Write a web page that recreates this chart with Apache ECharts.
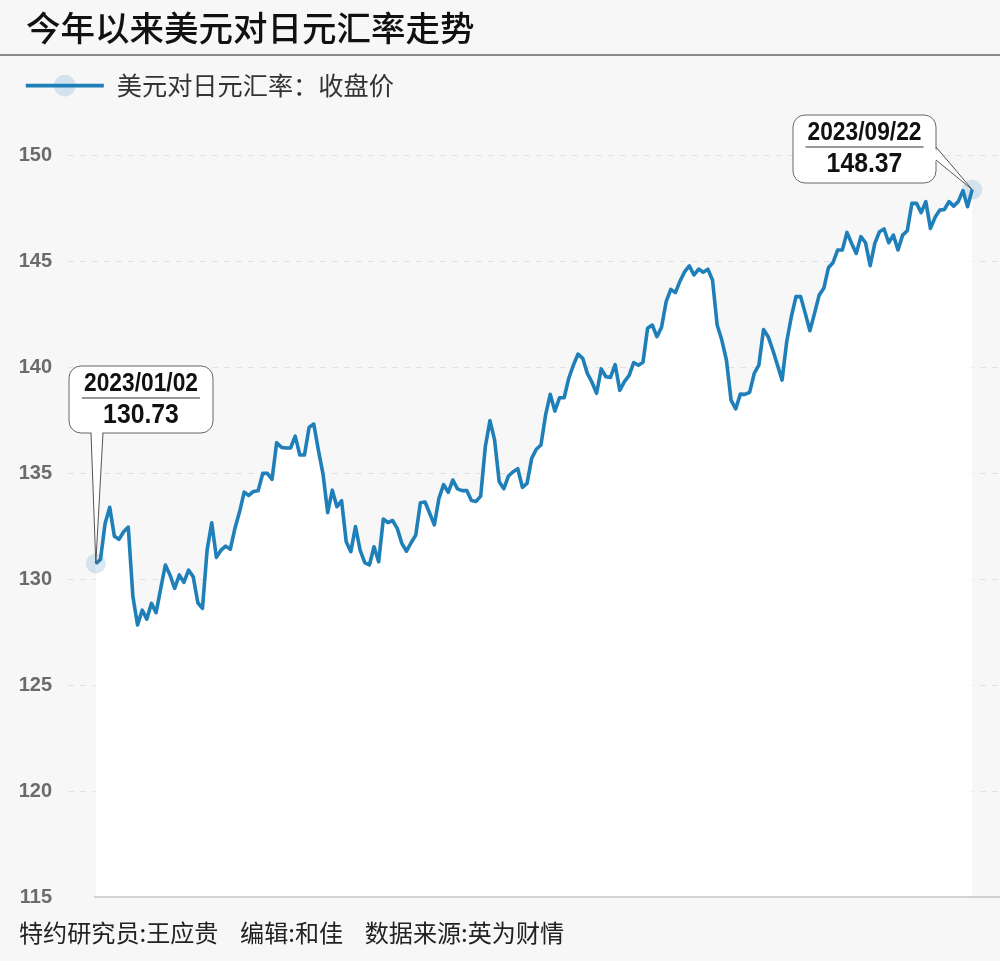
<!DOCTYPE html>
<html>
<head>
<meta charset="utf-8" />
<title>今年以来美元对日元汇率走势</title>
<style>
    html, body { margin: 0; padding: 0; background: #f7f7f8; }
    #container { width: 1000px; height: 961px; }
</style>
</head>
<body>
<div id="container"></div>
<script src="https://cdn.jsdelivr.net/npm/echarts@6/dist/echarts.min.js"></script>
<script type="text/javascript">
    var seriesName = '美元对日元汇率：收盘价';
    var chartTitle = '今年以来美元对日元汇率走势';
    var credits = '特约研究员:王应贵    编辑:和佳    数据来源:英为财情';

    // one value per trading day
    var closes = [
        130.73, 130.92, 132.62, 133.38, 132.02, 131.87, 132.23, 132.45, 129.16, 127.83,
        128.53, 128.11, 128.85, 128.41, 129.56, 130.66, 130.19, 129.56, 130.19, 129.84,
        130.42, 130.11, 128.88, 128.61, 131.36, 132.65, 131.02, 131.36, 131.55, 131.40,
        132.39, 133.17, 134.10, 133.94, 134.13, 134.16, 134.98, 134.98, 134.70, 136.43,
        136.21, 136.18, 136.18, 136.74, 135.85, 135.85, 137.15, 137.31, 136.08, 134.95,
        133.13, 134.19, 133.41, 133.69, 131.76, 131.29, 132.47, 131.36, 130.77, 130.66,
        131.52, 130.81, 132.83, 132.66, 132.76, 132.39, 131.68, 131.31, 131.71, 132.07,
        133.60, 133.63, 133.10, 132.55, 133.80, 134.45, 134.09, 134.67, 134.25, 134.17,
        134.17, 133.70, 133.66, 133.91, 136.24, 137.47, 136.56, 134.59, 134.26, 134.86,
        135.06, 135.20, 134.32, 134.51, 135.69, 136.12, 136.32, 137.74, 138.71, 137.92,
        138.55, 138.55, 139.47, 140.09, 140.61, 140.41, 139.70, 139.28, 138.76, 139.91,
        139.54, 139.51, 140.11, 138.90, 139.31, 139.59, 140.21, 140.08, 140.22, 141.83,
        141.98, 141.43, 141.87, 143.08, 143.66, 143.51, 144.06, 144.50, 144.77, 144.34,
        144.62, 144.47, 144.61, 144.10, 141.98, 141.27, 140.33, 138.44, 138.02, 138.72,
        138.71, 138.80, 139.70, 140.09, 141.77, 141.43, 140.80, 140.09, 139.38, 141.19,
        142.37, 143.32, 143.32, 142.53, 141.71, 142.53, 143.39, 143.71, 144.68, 144.93,
        145.52, 145.52, 146.35, 145.83, 145.36, 146.15, 145.86, 144.78, 145.83, 146.38,
        146.51, 145.86, 146.22, 145.52, 146.22, 146.43, 147.72, 147.72, 147.28, 147.80,
        146.54, 147.06, 147.40, 147.43, 147.80, 147.59, 147.80, 148.32, 147.56, 148.37
    ];

    var yTicks = [115, 120, 125, 130, 135, 140, 145, 150];

    // blank slots either side so the gridlines run past the curve
    var padSlots = 6;

    function weekdays(start, count) {
        var list = [];
        var d = new Date(start);
        while (list.length < count) {
            if (d.getDay() != 0 && d.getDay() != 6) {
                var m = d.getMonth() + 1;
                var day = d.getDate();
                list.push(d.getFullYear() + '/' + (m < 10 ? '0' + m : m) + '/' + (day < 10 ? '0' + day : day));
            }
            d.setDate(d.getDate() + 1);
        }
        return list;
    }

    var dates = weekdays('2023/01/02', closes.length);
    var categories = [];
    var values = [];
    for (var i = 0; i < padSlots; i++) { categories.push(''); values.push(null); }
    for (var i = 0; i < closes.length; i++) { categories.push(dates[i]); values.push(closes[i]); }
    for (var i = 0; i < padSlots; i++) { categories.push(''); values.push(null); }

    var firstIdx = padSlots;
    var lastIdx = padSlots + closes.length - 1;

    var chart = echarts.init(document.getElementById('container'));

    chart.setOption({
        animation: false,
        backgroundColor: '#f7f7f8',
        title: [{
            text: chartTitle,
            left: 26,
            top: 11,
            padding: 0,
            textStyle: { fontFamily: 'Noto Sans CJK SC', fontSize: 34.5, fontWeight: 500, color: '#111' }
        }, {
            text: credits,
            left: 19,
            top: 921,
            padding: 0,
            textStyle: { fontFamily: 'Noto Sans CJK SC', fontSize: 24.1, fontWeight: 400, color: '#222' }
        }],
        legend: {
            left: 24,
            top: 73,
            padding: 0,
            itemWidth: 78,
            itemHeight: 27,
            data: [seriesName],
            lineStyle: { width: 3.6 },
            textStyle: { fontFamily: 'Noto Sans CJK SC', fontSize: 25.2, color: '#333', padding: [0, 0, 0, 8] }
        },
        grid: { left: 68, right: 0, top: 155, bottom: 64 },
        xAxis: {
            type: 'category',
            boundaryGap: false,
            data: categories,
            axisLine: { show: false },
            axisTick: { show: false },
            axisLabel: { show: false },
            splitLine: { show: false }
        },
        yAxis: {
            type: 'value',
            min: yTicks[0],
            max: yTicks[yTicks.length - 1],
            interval: 5,
            axisLine: { show: false },
            axisTick: { show: false },
            axisLabel: { margin: 16, padding: [2, 0, 0, 0], fontFamily: 'Liberation Sans', fontSize: 20, fontWeight: 'bold', color: '#6b6b6b' },
            splitLine: { showMinLine: false, lineStyle: { type: [6, 6], color: '#e2e2e2', width: 1 } }
        },
        series: [{
            name: seriesName,
            type: 'line',
            data: values,
            showAllSymbol: true,
            symbol: 'circle',
            symbolSize: function (v, params) {
                return (params.dataIndex == firstIdx || params.dataIndex == lastIdx) ? 20 : 0;
            },
            itemStyle: { color: 'rgba(32,128,192,0.17)' },
            lineStyle: { color: '#1f7fb8', width: 3.6, join: 'round' },
            areaStyle: { color: '#ffffff', opacity: 1, origin: 'start' }
        }]
    });

    // rounded box, pointer out to the data point, date over price
    function callout(tip, box, tailBase, date, price) {
        var cx = box.x + box.w / 2;
        return [{
            type: 'rect',
            z: 100,
            shape: { x: box.x, y: box.y, width: box.w, height: box.h, r: 12 },
            style: { fill: '#fff', stroke: '#666', lineWidth: 1 }
        }, {
            type: 'polygon',
            z: 101,
            shape: { points: [tailBase.inner[0], tip, tailBase.inner[1]] },
            style: { fill: '#fff' }
        }, {
            type: 'polyline',
            z: 102,
            shape: { points: [tailBase.edge[0], tip, tailBase.edge[1]] },
            style: { fill: null, stroke: '#555', lineWidth: 1 }
        }, {
            type: 'line',
            z: 102,
            shape: { x1: cx - 59, y1: box.y + 32, x2: cx + 59, y2: box.y + 32 },
            style: { stroke: '#333', lineWidth: 1.2 }
        }, {
            type: 'text',
            z: 102,
            x: cx,
            y: box.y + 18,
            scaleX: 0.91,
            style: { text: date, fill: '#111', font: 'bold 25px "Liberation Sans"', align: 'center', verticalAlign: 'middle' }
        }, {
            type: 'text',
            z: 102,
            x: cx,
            y: box.y + 49,
            scaleX: 0.885,
            style: { text: price, fill: '#111', font: 'bold 28px "Liberation Sans"', align: 'center', verticalAlign: 'middle' }
        }];
    }

    var firstTip = chart.convertToPixel({ xAxisIndex: 0, yAxisIndex: 0 }, [firstIdx, closes[0]]);
    var lastTip = chart.convertToPixel({ xAxisIndex: 0, yAxisIndex: 0 }, [lastIdx, closes[closes.length - 1]]);
    var axisY = chart.convertToPixel({ yAxisIndex: 0 }, yTicks[0]);
    var axisLeft = 94;

    var extras = [{
        type: 'line',
        shape: { x1: 0, y1: 55, x2: 1000, y2: 55 },
        style: { stroke: '#8a8a8a', lineWidth: 2 }
    }, {
        type: 'line',
        z: 50,
        shape: { x1: axisLeft, y1: axisY, x2: 1000, y2: axisY },
        style: { stroke: '#aaaaaa', lineWidth: 1 }
    }];
    extras = extras.concat(callout(firstTip, { x: 69, y: 366, w: 144, h: 67 },
        { edge: [[91, 433], [103, 433]], inner: [[91.5, 431], [102.5, 431]] },
        dates[0], closes[0].toFixed(2)));
    extras = extras.concat(callout(lastTip, { x: 793, y: 115, w: 143, h: 68 },
        { edge: [[936, 147], [936, 160]], inner: [[934, 147.5], [934, 159.5]] },
        dates[dates.length - 1], closes[closes.length - 1].toFixed(2)));

    chart.setOption({ graphic: extras });
</script>
</body>
</html>
